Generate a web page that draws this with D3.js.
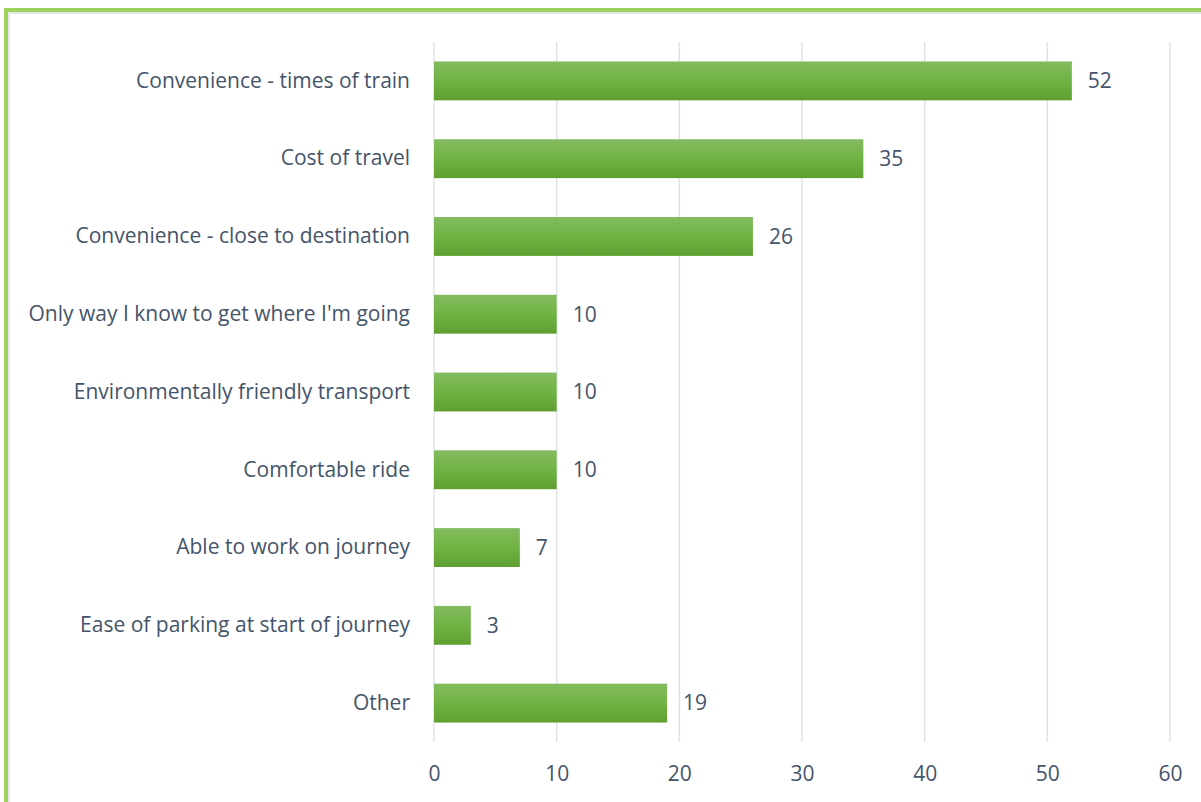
<!DOCTYPE html>
<html>
<head>
<meta charset="utf-8">
<script src="https://cdn.jsdelivr.net/npm/d3@7"></script>
<style>
  html, body { margin: 0; padding: 0; background: #fff; }
  svg { display: block; }
</style>
</head>
<body>
<svg id="chart" width="1201" height="802"></svg>
<script>
// Reasons for choosing to travel by train (number of responses)
const categories = [
  "Convenience - times of train",
  "Cost of travel",
  "Convenience - close to destination",
  "Only way I know to get where I'm going",
  "Environmentally friendly transport",
  "Comfortable ride",
  "Able to work on journey",
  "Ease of parking at start of journey",
  "Other "
];
const values = [52, 35, 26, 10, 10, 10, 7, 3, 19];
const tickValues = [0, 10, 20, 30, 40, 50, 60];

const W = 1201, H = 802;
const margin = { left: 434, right: 31, top: 42, bottom: 60 };
const svg = d3.select("#chart");
const font = "'Open Sans', sans-serif";
const textColor = "#44546a";
const fontSize = 21;

// Bar fill gradient
const defs = svg.append("defs");
const grad = defs.append("linearGradient")
  .attr("id", "barGrad").attr("x1", 0).attr("y1", 0).attr("x2", 0).attr("y2", 1);
grad.append("stop").attr("offset", "0%").attr("stop-color", "#84bb60");
grad.append("stop").attr("offset", "50%").attr("stop-color", "#70b343");
grad.append("stop").attr("offset", "100%").attr("stop-color", "#5f9f31");

// Frame
svg.append("line").attr("x1", 6).attr("x2", W).attr("y1", 10).attr("y2", 10)
  .attr("stroke", "#9dd35a").attr("stroke-width", 4);
svg.append("line").attr("x1", 6).attr("x2", 6).attr("y1", 8).attr("y2", H)
  .attr("stroke", "#9dd35a").attr("stroke-width", 4);
svg.append("line").attr("x1", 9).attr("x2", W).attr("y1", 13).attr("y2", 13)
  .attr("stroke", "#e3e6ea").attr("stroke-width", 2);
svg.append("line").attr("x1", 9).attr("x2", 9).attr("y1", 13).attr("y2", H)
  .attr("stroke", "#e3e6ea").attr("stroke-width", 2);

const x = d3.scaleLinear().domain([0, 60]).range([margin.left, W - margin.right]);
const y = d3.scaleBand().domain(categories)
  .range([margin.top, H - margin.bottom]).paddingInner(0.5).paddingOuter(0.25);

// Vertical gridlines
svg.append("g").selectAll("line").data(tickValues).join("line")
  .attr("x1", d => x(d)).attr("x2", d => x(d))
  .attr("y1", margin.top).attr("y2", H - margin.bottom)
  .attr("stroke", "#dfe3e8").attr("stroke-width", 1.5);

// X axis tick labels
const xAxis = d3.axisBottom(x).tickValues(tickValues).tickSize(0).tickPadding(0);
const gx = svg.append("g").attr("transform", `translate(0, ${H - margin.bottom + 24})`).call(xAxis);
gx.select(".domain").remove();
gx.selectAll("text").attr("font-family", font).attr("font-size", fontSize)
  .attr("fill", textColor).attr("dy", "0.71em");

// Category labels
const yAxis = d3.axisLeft(y).tickSize(0).tickPadding(24);
const gy = svg.append("g").attr("transform", `translate(${margin.left}, 0)`).call(yAxis);
gy.select(".domain").remove();
gy.selectAll("text").attr("font-family", font).attr("font-size", fontSize).attr("fill", textColor);

// Bars
const rows = categories.map((c, i) => ({ c, v: values[i] }));
svg.append("g").selectAll("rect").data(rows).join("rect")
  .attr("x", x(0)).attr("y", d => y(d.c))
  .attr("width", d => x(d.v) - x(0)).attr("height", y.bandwidth())
  .attr("fill", "url(#barGrad)");

// Value labels
svg.append("g").selectAll("text").data(rows).join("text")
  .attr("x", d => x(d.v) + 16).attr("y", d => y(d.c) + y.bandwidth() / 2)
  .attr("dy", "0.35em")
  .attr("font-family", font).attr("font-size", fontSize).attr("fill", textColor)
  .text(d => d.v);
</script>
</body>
</html>
